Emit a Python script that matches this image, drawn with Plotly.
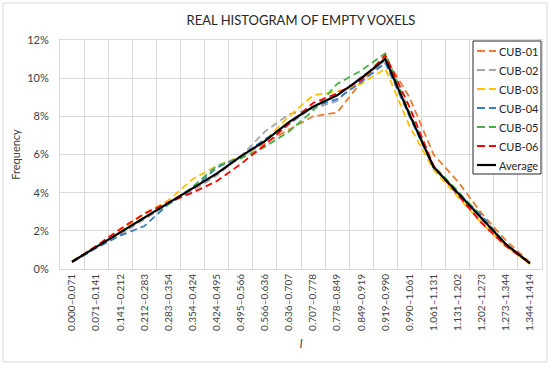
import plotly.graph_objects as go

bins = ["0.000–0.071", "0.071–0.141", "0.141–0.212", "0.212–0.283", "0.283–0.354",
        "0.354–0.424", "0.424–0.495", "0.495–0.566", "0.566–0.636", "0.636–0.707",
        "0.707–0.778", "0.778–0.849", "0.849–0.919", "0.919–0.990", "0.990–1.061",
        "1.061–1.131", "1.131–1.202", "1.202–1.273", "1.273–1.344", "1.344–1.414"]

cub01 = [0.40, 1.15, 1.85, 2.70, 3.50, 4.20, 5.00, 5.90, 6.60, 7.30, 8.00, 8.20, 9.80, 11.10, 9.00, 6.00, 4.60, 2.90, 1.50, 0.35]
cub02 = [0.35, 1.10, 1.80, 2.60, 3.40, 4.10, 4.90, 5.90, 7.20, 8.10, 8.40, 8.80, 10.10, 10.80, 8.10, 5.40, 3.90, 2.50, 1.20, 0.30]
cub03 = [0.40, 1.20, 2.00, 2.90, 3.60, 4.70, 5.40, 5.90, 6.70, 8.00, 9.10, 9.30, 9.70, 10.50, 7.50, 5.20, 3.80, 2.40, 1.20, 0.25]
cub04 = [0.35, 1.10, 1.75, 2.25, 3.40, 4.20, 5.30, 5.90, 6.80, 7.60, 8.50, 8.90, 9.80, 10.80, 8.00, 5.30, 4.00, 2.80, 1.30, 0.30]
cub05 = [0.38, 1.15, 1.90, 2.70, 3.40, 4.30, 5.40, 5.80, 6.40, 7.20, 8.30, 9.70, 10.40, 11.30, 8.20, 5.40, 4.10, 2.70, 1.30, 0.30]
cub06 = [0.38, 1.20, 2.10, 2.90, 3.50, 4.00, 4.60, 5.50, 6.50, 7.60, 8.70, 9.20, 9.90, 11.20, 8.50, 5.40, 3.90, 2.40, 1.20, 0.30]
average = [0.38, 1.15, 1.90, 2.70, 3.45, 4.20, 5.00, 5.90, 6.70, 7.70, 8.50, 9.10, 10.00, 11.00, 8.10, 5.35, 4.00, 2.60, 1.30, 0.30]

y_ticks = [0, 2, 4, 6, 8, 10, 12]
y_tick_labels = ["0%", "2%", "4%", "6%", "8%", "10%", "12%"]

series = [
    ("CUB-01", cub01, "#ED7D31", "7px,4px"),
    ("CUB-02", cub02, "#A5A5A5", "7px,4px"),
    ("CUB-03", cub03, "#FFC000", "7px,4px"),
    ("CUB-04", cub04, "#3A7DC9", "7px,4px"),
    ("CUB-05", cub05, "#47B04B", "7px,4px"),
    ("CUB-06", cub06, "#FF0000", "7px,4px"),
    ("Average", average, "#000000", "solid"),
]

FONT = "Lato"
TXT = "#404040"

# plot-area geometry in pixels (used only to place the frame and legend box)
W, H = 550, 365
ML, MR, MT, MB = 60, 8, 40, 96
PW, PH = W - ML - MR, H - MT - MB


def px_x(px):
    return (px - ML) / PW


def px_y(py):
    return (H - MB - py) / PH


fig = go.Figure()
for name, vals, col, dash in series:
    fig.add_trace(go.Scatter(x=bins, y=vals, mode="lines", name=name,
                             line=dict(color=col, width=2.2 if dash == "solid" else 1.8,
                                       dash=dash)))

shapes = [dict(type="rect", xref="paper", yref="paper",
               x0=px_x(3), x1=px_x(547), y0=px_y(362), y1=px_y(3),
               line=dict(color="#D9D9D9", width=1), layer="below")]
annotations = []

# legend box (drawn manually to match the compact reference legend)
shapes.append(dict(type="rect", xref="paper", yref="paper",
                   x0=px_x(473), x1=px_x(541), y0=px_y(174), y1=px_y(41),
                   line=dict(color="#262626", width=1), fillcolor="white", layer="above"))
for i, (name, vals, col, dash) in enumerate(series):
    yc = 51 + i * 19
    shapes.append(dict(type="line", xref="paper", yref="paper",
                       x0=px_x(477), x1=px_x(496), y0=px_y(yc), y1=px_y(yc),
                       line=dict(color=col, width=2.2 if dash == "solid" else 1.8,
                                 dash="solid" if dash == "solid" else "8px,4px"),
                       layer="above"))
    annotations.append(dict(text=name, xref="paper", yref="paper",
                            x=px_x(497), y=px_y(yc), xanchor="left", yanchor="middle",
                            showarrow=False, font=dict(family=FONT, size=11, color="#262626")))

fig.update_layout(
    width=W, height=H,
    margin=dict(l=ML, r=MR, t=MT, b=MB),
    paper_bgcolor="white", plot_bgcolor="white",
    font=dict(family=FONT, size=11, color=TXT),
    title=dict(text="REAL HISTOGRAM OF EMPTY VOXELS", x=(301 / W), xanchor="center",
               y=1 - 20 / H, yanchor="middle",
               font=dict(family=FONT, size=13, color="#262626")),
    showlegend=False,
    shapes=shapes,
    annotations=annotations,
)

fig.update_xaxes(
    type="category", range=[-0.5, 19.5], tickson="boundaries",
    showgrid=True, gridcolor="#D9D9D9", gridwidth=1,
    showline=True, linecolor="#D9D9D9", linewidth=1, mirror=True,
    ticks="", tickangle=-90, tickfont=dict(family=FONT, size=10, color=TXT),
    title=dict(text="<i>l</i>", standoff=9, font=dict(family=FONT, size=12, color=TXT)),
    fixedrange=True,
)
fig.update_yaxes(
    range=[0, 12], tickvals=y_ticks, ticktext=y_tick_labels,
    showgrid=True, gridcolor="#D9D9D9", gridwidth=1,
    showline=True, linecolor="#D9D9D9", linewidth=1, mirror=True,
    zeroline=False, ticks="", ticklen=0, ticklabelstandoff=8,
    tickfont=dict(family=FONT, size=11, color=TXT),
    title=dict(text="Frequency", standoff=4, font=dict(family=FONT, size=11, color=TXT)),
    fixedrange=True,
)

fig.write_html("out.html", config={"displayModeBar": False},
               post_script="document.body.style.margin='0';document.body.style.overflow='hidden';")
